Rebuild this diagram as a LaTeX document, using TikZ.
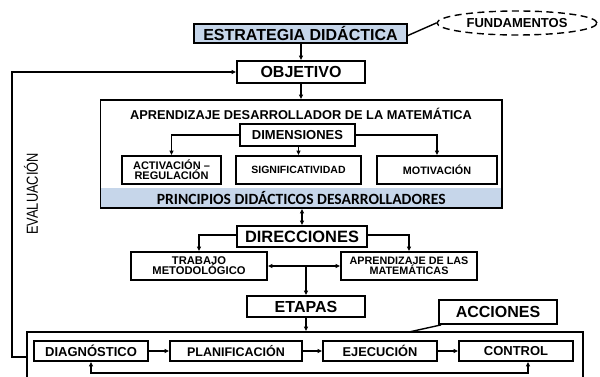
\documentclass[tikz,border=0pt]{standalone}
\usepackage{fontspec}
\setmainfont{Liberation Sans}
\newfontfamily\calib{Carlito}
\usetikzlibrary{arrows.meta,shapes.geometric}
\definecolor{lblue}{HTML}{C6D6EA}
\tikzset{
  bx/.style={draw, line width=1.8pt, inner sep=0pt, align=center, font=\bfseries},
  cn/.style={line width=1.4pt},
  ar/.style={cn, -{Triangle[length=4.5pt,width=4pt]}},
  dar/.style={cn, {Triangle[length=4.5pt,width=4pt]}-{Triangle[length=4.5pt,width=4pt]}},
  fs/.style={font=\bfseries\fontsize{#1}{#1}\selectfont},
}
\begin{document}
\begin{tikzpicture}[x=1pt,y=-1pt]
\useasboundingbox (0,0) rectangle (600,377);
\clip (0,0) rectangle (600,377);
% top
\node[bx, fill=lblue, minimum width=213, minimum height=19, fs=16] (estr) at (300.5,33.5) {ESTRATEGIA DIDÁCTICA};
\node[draw, dash pattern=on 7pt off 4.5pt, line width=1.4pt, ellipse, minimum width=160, minimum height=24, inner sep=0pt, fs=13] (fund) at (517,23) {FUNDAMENTOS};
\draw[cn] ([yshift=-2]estr.east) -- (fund.west);
\node[bx, minimum width=128, minimum height=22, fs=16] (obj) at (301,72) {OBJETIVO};
\draw[ar] (estr.south -| obj.north) -- (obj.north);
% big box
\node[fill=lblue, minimum width=401, minimum height=20, inner sep=0pt, font=\calib\bfseries\fontsize{15.6}{15.6}\selectfont] (band) at (301.25,198) {PRINCIPIOS DIDÁCTICOS DESARROLLADORES};
\node[bx, minimum width=401.5, minimum height=108] (big) at (301.25,154) {};
\node[fs=12.8, inner sep=0pt] (title) at (301,114) {APRENDIZAJE DESARROLLADOR DE LA MATEMÁTICA};
\draw[ar] (obj.south) -- (obj.south |- big.north);
\node[bx, minimum width=115, minimum height=22, fs=13] (dim) at (297.5,135) {DIMENSIONES};
\node[bx, minimum width=99, minimum height=28, fs=11] (act) at (171.5,170) {ACTIVACIÓN –\\[-1pt]REGULACIÓN};
\node[bx, minimum width=125, minimum height=28, fs=10.5] (sig) at (298.5,170) {SIGNIFICATIVIDAD};
\node[bx, minimum width=120, minimum height=28, fs=10.8] (mot) at (437,170) {MOTIVACIÓN};
\draw[ar] (dim.west) -| (act.north);
\draw[ar] (dim.south -| sig.north) -- (sig.north);
\draw[ar] (dim.east) -| (mot.north);
% direcciones
\node[bx, minimum width=130, minimum height=21, fs=16.4] (dir) at (302,236.5) {DIRECCIONES};
\draw[dar] (big.south -| dir.north) -- (dir.north);
\node[bx, minimum width=136, minimum height=28, fs=11.2] (trab) at (199,266) {TRABAJO\\[-1pt]METODOLÓGICO};
\node[bx, minimum width=136, minimum height=28, fs=10.8] (apr) at (409,266) {APRENDIZAJE DE LAS\\[-1pt]MATEMÁTICAS};
\draw[ar] ([yshift=1.5]dir.west) -| (trab.north);
\draw[ar] ([yshift=1.5]dir.east) -| (apr.north);
\draw[dar] (trab.east) -- (apr.west);
\node[bx, minimum width=118, minimum height=21, fs=16] (eta) at (306,306.5) {ETAPAS};
\coordinate (mid) at (eta.north |- trab.east);
\draw[ar] (mid) -- (eta.north);
% bottom
\node[bx, minimum width=556, minimum height=60] (bot) at (305,362) {};
\draw[ar] (eta.south) -- (eta.south |- bot.north);
\node[bx, minimum width=118, minimum height=24, fs=16] (acc) at (498,312) {ACCIONES};
\coordinate (accend) at (409,332);
\draw[cn] ([xshift=3]acc.south west) -- (accend);
\node[bx, minimum width=114, minimum height=20, fs=13] (diag) at (91,351) {DIAGNÓSTICO};
\node[bx, minimum width=132, minimum height=20, fs=12.5] (plan) at (236,351) {PLANIFICACIÓN};
\node[bx, minimum width=114, minimum height=20, fs=12.8] (ejec) at (380,351) {EJECUCIÓN};
\node[bx, minimum width=114, minimum height=20, fs=13] (ctrl) at (516,351) {CONTROL};
\draw[ar] (diag.east) -- (plan.west);
\draw[ar] (plan.east) -- (ejec.west);
\draw[ar] (ejec.east) -- (ctrl.west);
\coordinate (cb) at ([xshift=12]ctrl.south);
\draw[dar] (diag.south) -- ++(0,11) -| (cb);
% evaluation loop
\coordinate (ll) at (12,357);
\draw[ar] (bot.west |- ll) -- (ll) |- (obj.west);
\node[rotate=90, inner sep=0pt, font=\fontsize{16}{16}\selectfont] (eval) at (31,194) {\scalebox{0.8}[1]{EVALUACIÓN}};
\end{tikzpicture}
\end{document}
